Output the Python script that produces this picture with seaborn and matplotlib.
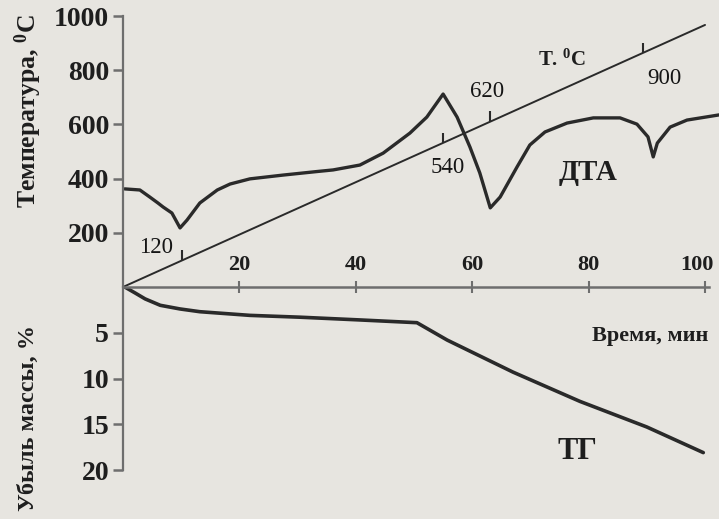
import numpy as np
import matplotlib
matplotlib.use("Agg")
import matplotlib.pyplot as plt
import matplotlib.transforms as mtransforms
import seaborn as sns

# DTA signal, drawn on the temperature scale; time in minutes
dta_time = [0.3, 2.9, 4.6, 6.0, 6.9, 8.4, 9.8, 11.0, 13.2, 16.2, 18.4, 21.8,
            27.5, 33.3, 36.1, 40.7, 44.7, 49.3, 52.2, 55.0, 57.4, 59.6, 61.3,
            63.1, 64.8, 67.7, 69.9, 72.5, 76.3, 80.8, 85.4, 88.3, 90.2, 91.1,
            91.8, 94.0, 96.9, 102.4]
dta_value = [362, 358, 332, 310, 295, 273, 218, 247, 310, 358, 380, 399,
             413, 426, 432, 450, 494, 568, 627, 712, 627, 517, 421,
             292, 332, 443, 524, 572, 605, 624, 624, 601, 554, 480,
             531, 590, 616, 635]

# furnace temperature ramp, deg C
ramp_time = [0, 100]
ramp_temp = [0, 967]

# thermal effects: time of the DTA extremum and its temperature
event_time = [10.1, 55.0, 63.1, 89.3]
event_temp = [120, 540, 620, 900]

# TG: mass loss, %
tg_time = [0.3, 2.1, 3.8, 6.4, 9.8, 13.2, 21.8, 30.4, 40.7, 50.5, 55.7,
           67.0, 78.5, 90.0, 99.7]
tg_loss = [0.0, 0.66, 1.3, 2.0, 2.4, 2.7, 3.1, 3.3, 3.6, 3.9, 5.8,
           9.3, 12.5, 15.3, 18.1]

time_ticks = [20, 40, 60, 80, 100]
temp_ticks = [200, 400, 600, 800, 1000]
loss_ticks = [5, 10, 15, 20]

BG = "#e7e5e0"
INK = "#2a2a2a"
AXIS = "#6e6e6e"
TXT = "#1e1e1e"

sns.set_theme(style="white")
plt.rcParams.update({
    "font.family": ["Liberation Serif", "DejaVu Serif"],
    "mathtext.fontset": "custom",
    "mathtext.rm": "Liberation Serif:bold",
    "mathtext.bf": "Liberation Serif:bold",
    "mathtext.it": "Liberation Serif:bold",
    "text.color": TXT,
    "axes.labelcolor": TXT,
    "xtick.color": AXIS,
    "ytick.color": AXIS,
    "xtick.labelcolor": TXT,
    "ytick.labelcolor": TXT,
})

W, H = 719, 519
x0, x1 = 123, 719
y_top, y_axis, y_bot = 16, 287, 470

fig = plt.figure(figsize=(W / 100, H / 100), dpi=100, facecolor=BG)
ax_t = fig.add_axes([x0 / W, 1 - y_axis / H, (x1 - x0) / W, (y_axis - y_top) / H])
ax_m = fig.add_axes([x0 / W, 1 - y_bot / H, (x1 - x0) / W, (y_bot - y_axis) / H],
                    sharex=ax_t)
for ax in (ax_t, ax_m):
    ax.set_facecolor("none")
    ax.set_xlim(0, 102.4)

ax_t.set_ylim(0, 1000)
ax_m.set_ylim(20, 0)

# curves
sns.lineplot(x=ramp_time, y=ramp_temp, ax=ax_t, color=INK, lw=1.4,
             estimator=None, solid_capstyle="round")
sns.lineplot(x=dta_time, y=dta_value, ax=ax_t, color=INK, lw=2.4,
             estimator=None, solid_joinstyle="round", solid_capstyle="round")
sns.lineplot(x=tg_time, y=tg_loss, ax=ax_m, color=INK, lw=2.6,
             estimator=None, solid_joinstyle="round", solid_capstyle="round")

# event marks on the ramp line with their temperatures
ramp_at_event = np.interp(event_time, ramp_time, ramp_temp)
ax_t.vlines(event_time, ramp_at_event, ramp_at_event + 38, color=INK, lw=1.5)
label_offsets = [(-26, 13), (5, -25), (-3, 30), (22, -26)]
for t, base, temp, (dx, dy) in zip(event_time, ramp_at_event, event_temp,
                                   label_offsets):
    ax_t.annotate(str(temp), xy=(t, base), xytext=(dx, dy),
                  textcoords="offset pixels", ha="center", va="center",
                  fontsize=16.5, color="#151515")

ax_t.text(75.4, 838, "Т. $^0$С", ha="center", va="center", fontsize=15,
          fontweight="bold")
ax_t.text(79.9, 424, "ДТА", ha="center", va="center", fontsize=21,
          fontweight="bold")
ax_m.text(78.0, 18.0, "ТГ", ha="center", va="center", fontsize=22,
          fontweight="bold")

# spines
for ax in (ax_t, ax_m):
    ax.spines["right"].set_visible(False)
    ax.spines["left"].set_color(AXIS)
    ax.spines["left"].set_linewidth(1.6)
ax_t.spines["top"].set_visible(False)
ax_t.spines["bottom"].set_visible(False)
ax_m.spines["bottom"].set_visible(False)
ax_m.spines["top"].set_color(AXIS)
ax_m.spines["top"].set_linewidth(1.8)
ax_t.spines["left"].set_bounds(0, 1000)
ax_m.spines["left"].set_bounds(0, 20)
ax_m.spines["top"].set_bounds(0, 100.6)

# ticks
ax_t.set_yticks(temp_ticks)
ax_m.set_yticks(loss_ticks)
ax_m.set_xticks(time_ticks)
ax_m.xaxis.tick_top()
ax_t.tick_params(axis="x", bottom=False, labelbottom=False, top=False,
                 labeltop=False)
ax_m.tick_params(axis="x", top=True, labeltop=True, bottom=False,
                 labelbottom=False, direction="inout", length=8, width=1.5,
                 pad=5, labelsize=16)
for ax in (ax_t, ax_m):
    ax.tick_params(axis="y", left=True, direction="out", length=7, width=1.8,
                   pad=3, labelsize=20)
for lab in ax_t.get_yticklabels() + ax_m.get_yticklabels() + ax_m.get_xticklabels():
    lab.set_fontweight("bold")
last = ax_m.get_xticklabels()[-1]
last.set_horizontalalignment("right")
last.set_transform(last.get_transform() +
                   mtransforms.ScaledTranslation(0.09, 0, fig.dpi_scale_trans))

# axis titles
ax_t.set_ylabel("Температура, $^0$C", fontsize=18.5, fontweight="bold")
ax_t.yaxis.set_label_coords(-0.159, 0.65)
ax_t.yaxis.label.set_va("center")
ax_m.set_ylabel("Убыль массы, %", fontsize=17.5, fontweight="bold")
ax_m.yaxis.set_label_coords(-0.159, 0.285)
ax_m.yaxis.label.set_va("center")
ax_m.set_xlabel("Время, мин", fontsize=16, fontweight="bold")
ax_m.xaxis.set_label_coords(0.884, 0.732)
ax_m.xaxis.label.set_va("center")

fig.savefig("out.png", dpi=100, facecolor=BG)
